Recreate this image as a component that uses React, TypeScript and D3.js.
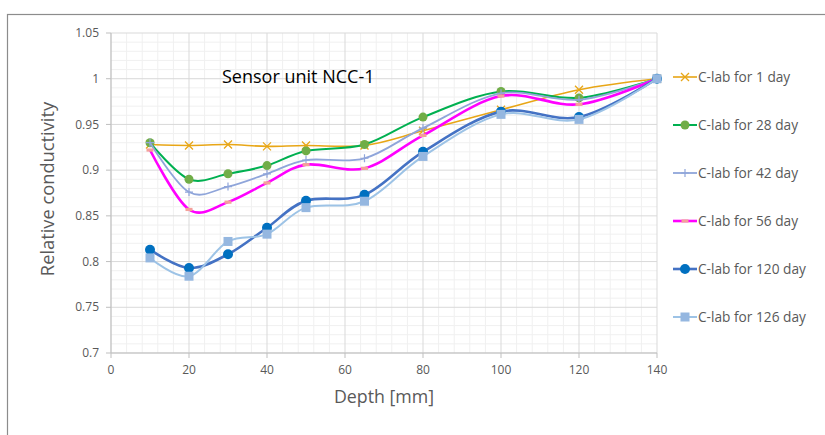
import * as d3 from "d3";

const depths = [10, 20, 30, 40, 50, 65, 80, 100, 120, 140];
const day1 = [0.928, 0.927, 0.928, 0.926, 0.927, 0.927, 0.943, 0.966, 0.988, 1.0];
const day28 = [0.93, 0.89, 0.896, 0.905, 0.921, 0.928, 0.958, 0.986, 0.979, 1.0];
const day42 = [0.93, 0.876, 0.882, 0.896, 0.911, 0.913, 0.946, 0.984, 0.977, 1.0];
const day56 = [0.922, 0.857, 0.865, 0.886, 0.906, 0.902, 0.938, 0.981, 0.972, 1.0];
const day120 = [0.813, 0.793, 0.808, 0.837, 0.8665, 0.873, 0.92, 0.964, 0.958, 1.0];
const day126 = [0.804, 0.784, 0.822, 0.83, 0.859, 0.866, 0.915, 0.961, 0.9555, 1.0];

const xTicks = [0, 20, 40, 60, 80, 100, 120, 140];
const yTicks = [0.7, 0.75, 0.8, 0.85, 0.9, 0.95, 1, 1.05];

type Marker = "x" | "circle" | "plus" | "dash" | "square";
const series: { name: string; values: number[]; line: string; width: number; marker: Marker; mColor: string }[] = [
  { name: "C-lab for 1 day", values: day1, line: "#E8A616", width: 1.6, marker: "x", mColor: "#E8A616" },
  { name: "C-lab for 28 day", values: day28, line: "#00B050", width: 2, marker: "circle", mColor: "#70AD47" },
  { name: "C-lab for 42 day", values: day42, line: "#8FA5DA", width: 1.8, marker: "plus", mColor: "#8FA5DA" },
  { name: "C-lab for 56 day", values: day56, line: "#FF00FF", width: 2.6, marker: "dash", mColor: "#F4A09A" },
  { name: "C-lab for 120 day", values: day120, line: "#4472C4", width: 2.6, marker: "circle", mColor: "#0070C0" },
  { name: "C-lab for 126 day", values: day126, line: "#9DC3E6", width: 2, marker: "square", mColor: "#95B7E0" },
];

const font = "'Open Sans', 'Noto Sans', sans-serif";
const textColor = "#595959";

function MarkerShape({ kind, x, y, color }: { kind: Marker; x: number; y: number; color: string }) {
  if (kind === "x")
    return (
      <path d={`M${x - 4},${y - 4}L${x + 4},${y + 4}M${x - 4},${y + 4}L${x + 4},${y - 4}`} stroke={color} strokeWidth={1.3} />
    );
  if (kind === "plus")
    return <path d={`M${x - 4},${y}L${x + 4},${y}M${x},${y - 4}L${x},${y + 4}`} stroke={color} strokeWidth={1.2} />;
  if (kind === "dash") return <rect x={x - 3.5} y={y - 1.6} width={7} height={3.2} fill={color} />;
  if (kind === "square") return <rect x={x - 4.5} y={y - 4.5} width={9} height={9} fill={color} />;
  return <circle cx={x} cy={y} r={color === "#0070C0" ? 5 : 4.5} fill={color} />;
}

export default function App() {
  const left = 111, right = 657, top = 33, bottom = 353;
  const x = d3.scaleLinear().domain([0, 140]).range([left, right]);
  const y = d3.scaleLinear().domain([0.7, 1.05]).range([bottom, top]);

  const line = d3
    .line<[number, number]>()
    .x((d) => x(d[0]))
    .y((d) => y(d[1]))
    .curve(d3.curveCatmullRom.alpha(0));

  const minorX = d3.range(0, 141, 4).filter((v) => v % 20 !== 0);
  const minorY = d3.range(70, 106, 1).map((v) => v / 100).filter((v) => Math.round(v * 100) % 5 !== 0);

  return (
    <svg width={825} height={435} style={{ position: "absolute", left: 0, top: 0 }} fontFamily={font}>
      <rect x={0} y={0} width={825} height={435} fill="#fff" />
      <rect x={7.5} y={14.5} width={840} height={440} fill="#fff" stroke="#8C8C8C" strokeWidth={1.2} />

      {/* minor gridlines */}
      {minorX.map((v) => (
        <line key={"mx" + v} x1={x(v)} x2={x(v)} y1={top} y2={bottom} stroke="#F0F0F0" />
      ))}
      {minorY.map((v) => (
        <line key={"my" + v} x1={left} x2={right} y1={y(v)} y2={y(v)} stroke="#F0F0F0" />
      ))}
      {/* major gridlines */}
      {xTicks.map((v) => (
        <line key={"gx" + v} x1={x(v)} x2={x(v)} y1={top} y2={bottom} stroke="#D9D9D9" />
      ))}
      {yTicks.map((v) => (
        <line key={"gy" + v} x1={left} x2={right} y1={y(v)} y2={y(v)} stroke="#D9D9D9" />
      ))}

      {/* axes */}
      <line x1={left} x2={left} y1={top} y2={bottom} stroke="#BFBFBF" />
      <line x1={left} x2={right} y1={bottom} y2={bottom} stroke="#BFBFBF" />
      {yTicks.map((v) => (
        <g key={"yt" + v}>
          <line x1={left - 5} x2={left} y1={y(v)} y2={y(v)} stroke="#BFBFBF" />
          <text x={left - 12} y={y(v)} dy="0.35em" textAnchor="end" fontSize={12} fill={textColor}>
            {v}
          </text>
        </g>
      ))}
      {xTicks.map((v) => (
        <g key={"xt" + v}>
          <line x1={x(v)} x2={x(v)} y1={bottom} y2={bottom + 5} stroke="#BFBFBF" />
          <text x={x(v)} y={bottom + 21} textAnchor="middle" fontSize={12} fill={textColor}>
            {v}
          </text>
        </g>
      ))}

      {/* series */}
      {series.map((s) => {
        const pts = depths.map((d, i) => [d, s.values[i]] as [number, number]);
        return (
          <g key={s.name}>
            <path d={line(pts) || ""} fill="none" stroke={s.line} strokeWidth={s.width} />
            {pts.map((p, i) => (
              <MarkerShape key={i} kind={s.marker} x={x(p[0])} y={y(p[1])} color={s.mColor} />
            ))}
          </g>
        );
      })}

      {/* title */}
      <text x={222} y={83} fontSize={18} fill="#000">
        Sensor unit NCC-1
      </text>

      {/* axis titles */}
      <text transform={`translate(54,189) rotate(-90)`} textAnchor="middle" fontSize={18.3} fill={textColor}>
        Relative conductivity
      </text>
      <text x={384} y={403} textAnchor="middle" fontSize={17.8} fill={textColor}>
        Depth [mm]
      </text>

      {/* legend */}
      {series.map((s, i) => {
        const ly = 77 + i * 48;
        return (
          <g key={"lg" + s.name}>
            <line x1={673} x2={697} y1={ly} y2={ly} stroke={s.line} strokeWidth={s.width} />
            <MarkerShape kind={s.marker} x={685} y={ly} color={s.mColor} />
            <text x={698} y={ly} dy="0.35em" fontSize={13.7} fill={textColor}>
              {s.name}
            </text>
          </g>
        );
      })}
    </svg>
  );
}
